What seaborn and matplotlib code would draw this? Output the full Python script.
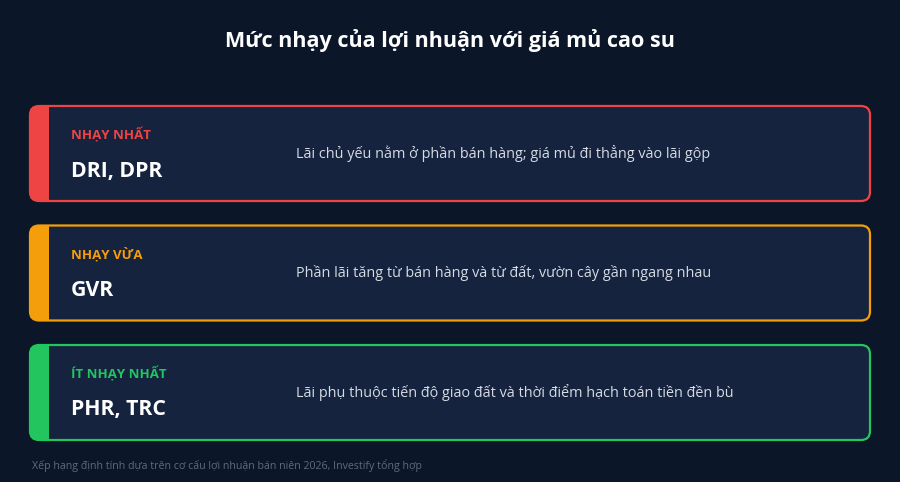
import matplotlib
matplotlib.use("Agg")
import matplotlib.pyplot as plt
from matplotlib.patches import FancyBboxPatch, Rectangle
import seaborn as sns

# data
levels = ["NHẠY NHẤT", "NHẠY VỪA", "ÍT NHẠY NHẤT"]
tickers = ["DRI, DPR", "GVR", "PHR, TRC"]
notes = [
    "Lãi chủ yếu nằm ở phần bán hàng; giá mủ đi thẳng vào lãi gộp",
    "Phần lãi tăng từ bán hàng và từ đất, vườn cây gần ngang nhau",
    "Lãi phụ thuộc tiến độ giao đất và thời điểm hạch toán tiền đền bù",
]
colors = ["#ef4444", "#f59e0b", "#22c55e"]
title = "Mức nhạy của lợi nhuận với giá mủ cao su"
footer = "Xếp hạng định tính dựa trên cơ cấu lợi nhuận bán niên 2026, Investify tổng hợp"

bg = "#0b1628"
card_bg = "#15233f"

sns.set_theme(style="dark", rc={"figure.facecolor": bg, "axes.facecolor": bg})
plt.rcParams["font.family"] = ["Open Sans", "Noto Sans", "DejaVu Sans"]

fig = plt.figure(figsize=(9, 4.82), dpi=100)
ax = fig.add_axes([0, 0, 1, 1])
ax.set_xlim(0, 900)
ax.set_ylim(482, 0)
ax.axis("off")

ax.text(450, 40, title, ha="center", va="center", color="white",
        fontsize=15.5, fontweight="bold")

x0, w = 30, 840
top0, h, step = 106, 95, 119.5
for i, (lv, tk, nt, c) in enumerate(zip(levels, tickers, notes, colors)):
    top = top0 + i * step
    card = FancyBboxPatch((x0, top), w, h, boxstyle="round,pad=0,rounding_size=9",
                          facecolor=card_bg, edgecolor="none", zorder=1)
    ax.add_patch(card)
    strip = Rectangle((x0, top), 19, h, facecolor=c, edgecolor="none", zorder=2)
    ax.add_patch(strip)
    strip.set_clip_path(card)
    border = FancyBboxPatch((x0, top), w, h, boxstyle="round,pad=0,rounding_size=9",
                            facecolor="none", edgecolor=c, linewidth=1.6, zorder=3)
    ax.add_patch(border)
    ax.text(71, top + 29, lv, ha="left", va="center", color=c,
            fontsize=9.5, fontweight="bold", zorder=4)
    ax.text(71, top + 65, tk, ha="left", va="center", color="white",
            fontsize=15.3, fontweight="bold", zorder=4)
    ax.text(296, top + h / 2, nt, ha="left", va="center", color="#d6dbe4",
            fontsize=10.4, zorder=4)

ax.text(32, 466, footer, ha="left", va="center", color="#5f6b7e", fontsize=7.7)

fig.savefig("out.png", dpi=100, facecolor=bg)
